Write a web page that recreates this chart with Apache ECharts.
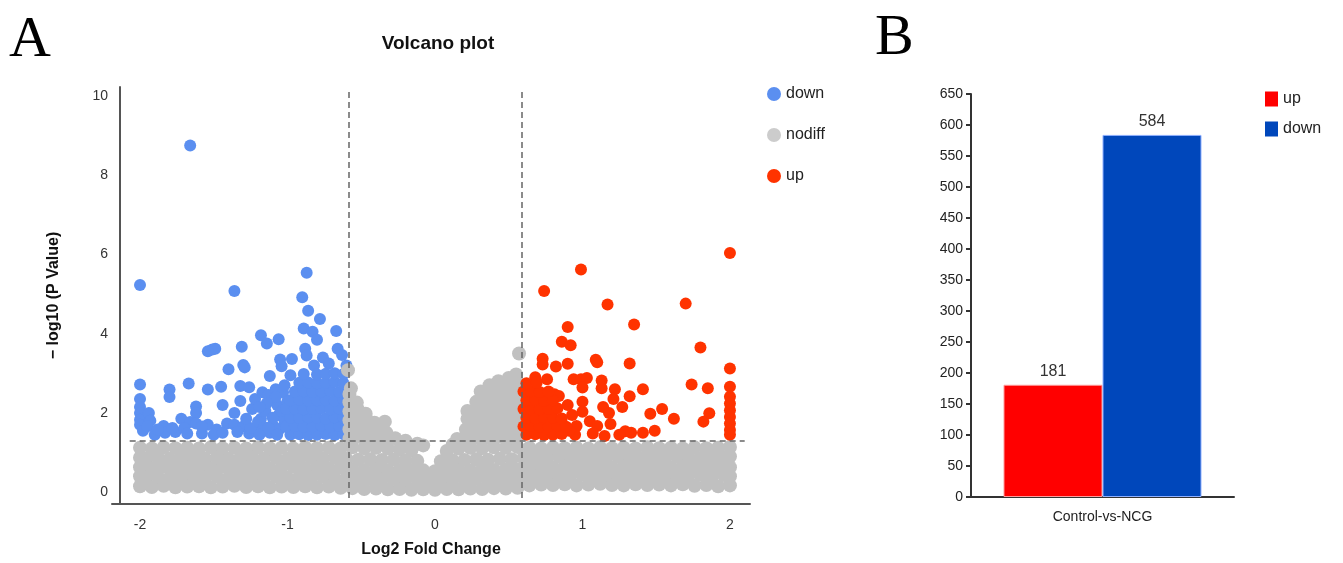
<!DOCTYPE html>
<html>
<head>
<meta charset="utf-8">
<script src="https://cdn.jsdelivr.net/npm/echarts@6/dist/echarts.min.js"></script>
<style>
  html, body { margin: 0; padding: 0; background: #fff; }
  #main { width: 1343px; height: 563px; }
</style>
</head>
<body>
<div id="main"></div>
<script>
// ---- volcano plot data (log2FC, -log10 p) ----
var downPts = [
  [-1.66,8.75],[-2.00,5.23],[-1.36,5.08],[-0.87,5.54],[-0.90,4.92],[-0.86,4.58],[-0.78,4.37],[-0.67,4.07],
  [-0.89,4.13],[-0.83,4.05],[-0.80,3.85],[-1.18,3.96],[-1.14,3.75],[-1.06,3.86],[-1.31,3.67],[-1.51,3.60],
  [-1.49,3.62],[-1.54,3.56],[-1.30,3.21],[-1.29,3.15],[-1.40,3.10],[-1.05,3.35],[-1.04,3.18],[-0.97,3.36],
  [-1.12,2.93],[-0.88,3.62],[-0.87,3.45],[-0.66,3.62],[-0.63,3.46],[-0.60,3.20],[-0.76,3.40],[-0.72,3.25],
  [-0.82,3.20],[-2.00,2.72],[-1.67,2.74],[-1.80,2.59],[-1.80,2.40],[-2.00,2.35],[-2.00,2.15],[-2.00,2.00],
  [-2.00,1.83],[-2.00,1.70],[-1.94,2.00],[-1.98,1.55],[-1.93,1.80],[-1.54,2.59],[-1.45,2.66],[-1.32,2.68],
  [-1.26,2.65],[-1.44,2.20],[-1.62,2.16],[-1.62,2.00],[-1.36,2.00],[-1.72,1.85],[-1.66,1.77],[-1.62,1.73],
  [-1.84,1.67],[-1.83,1.50],[-1.54,1.70],[-1.48,1.58],[-1.41,1.73],[-1.36,1.70],[-1.30,1.66],[-1.21,1.58],
  [-1.18,1.85],[-1.24,2.10],[-1.22,2.35],[-1.17,2.52],[-1.13,2.45],[-1.08,2.60],[-1.03,2.52],[-1.90,1.45],
  [-1.76,1.52],[-1.70,1.62],[-1.58,1.48],[-1.50,1.45],[-1.44,1.50],[-1.26,1.48],[-1.12,1.50],[-1.10,1.70],
  [-1.15,2.05],[-1.06,1.95],[-1.07,2.20],[-1.00,2.30],
  [-1.25,1.62],[-1.20,1.78],[-1.16,1.64],[-1.10,1.88],[-1.05,1.60],[-1.02,1.80],[-1.08,2.40],[-1.04,2.05],
  [-1.14,2.25],[-1.19,2.15],[-1.28,1.85],[-1.32,2.30],[-1.34,1.52],[-1.58,1.66],[-1.68,1.48],[-1.78,1.62],
  [-1.95,1.66],[-1.88,1.58],[-1.19,1.45],[-1.13,1.62],[-1.07,1.45],[-1.02,2.70],[-0.98,2.95],
  [-0.98,1.45],[-0.92,1.46],[-0.86,1.44],[-0.80,1.45],[-0.74,1.47],[-0.68,1.44],[-0.62,1.46],
  [-1.01,1.66],[-0.95,1.67],[-0.89,1.65],[-0.83,1.66],[-0.77,1.68],[-0.71,1.65],[-0.65,1.67],[-0.60,1.66],
  [-0.98,1.88],[-0.92,1.87],[-0.86,1.89],[-0.80,1.88],[-0.74,1.86],[-0.68,1.89],[-0.62,1.88],
  [-1.01,2.10],[-0.95,2.11],[-0.89,2.09],[-0.83,2.10],[-0.77,2.12],[-0.71,2.09],[-0.65,2.11],[-0.60,2.10],
  [-0.98,2.32],[-0.92,2.33],[-0.86,2.31],[-0.80,2.32],[-0.74,2.34],[-0.68,2.31],[-0.62,2.33],
  [-0.95,2.54],[-0.89,2.55],[-0.83,2.53],[-0.77,2.54],[-0.71,2.56],[-0.65,2.53],[-0.60,2.55],
  [-0.92,2.76],[-0.86,2.77],[-0.80,2.75],[-0.74,2.76],[-0.68,2.78],[-0.62,2.75],
  [-0.89,2.98],[-0.80,2.97],[-0.74,2.99],[-0.68,3.00],[-0.62,2.98]
];

var nodiffPts = [
  // lower row
  [-2.00,0.15],[-1.92,0.13],[-1.84,0.16],[-1.76,0.12],[-1.68,0.14],[-1.60,0.15],[-1.52,0.12],[-1.44,0.14],
  [-1.36,0.16],[-1.28,0.13],[-1.20,0.15],[-1.12,0.12],[-1.04,0.14],[-0.96,0.13],[-0.88,0.15],[-0.80,0.12],
  [-0.72,0.14],[-0.64,0.11],[-0.56,0.10],[-0.48,0.08],[-0.40,0.09],[-0.32,0.07],[-0.24,0.08],[-0.16,0.06],
  [-0.08,0.07],[0.00,0.06],[0.08,0.08],[0.16,0.07],[0.24,0.09],[0.32,0.08],[0.40,0.10],[0.48,0.09],
  [0.56,0.11],[0.64,0.17],[0.72,0.19],[0.80,0.18],[0.88,0.20],[0.96,0.17],[1.04,0.19],[1.12,0.21],
  [1.20,0.18],[1.28,0.17],[1.36,0.20],[1.44,0.18],[1.52,0.19],[1.60,0.17],[1.68,0.20],[1.76,0.16],
  [1.84,0.18],[1.92,0.15],[2.00,0.17],
  [-2.00,0.40],[-1.96,0.37],[-1.88,0.39],[-1.80,0.36],[-1.72,0.38],[-1.64,0.40],[-1.56,0.37],[-1.48,0.39],
  [-1.40,0.36],[-1.32,0.38],[-1.24,0.40],[-1.16,0.37],[-1.08,0.39],[-1.00,0.36],[-0.92,0.38],[-0.84,0.37],
  [-0.76,0.39],[-0.68,0.36],[-0.60,0.35],[-0.52,0.33],[-0.44,0.34],[-0.36,0.32],[-0.28,0.33],[-0.20,0.31],
  [-0.12,0.32],[-0.04,0.30],[0.04,0.31],[0.12,0.33],[0.20,0.32],[0.28,0.34],[0.36,0.33],[0.44,0.35],
  [0.52,0.34],[0.60,0.38],[0.68,0.41],[0.76,0.43],[0.84,0.40],[0.92,0.42],[1.00,0.44],[1.08,0.41],
  [1.16,0.43],[1.24,0.40],[1.32,0.42],[1.40,0.44],[1.48,0.41],[1.56,0.43],[1.64,0.40],[1.72,0.42],
  [1.80,0.44],[1.88,0.41],[1.96,0.43],[2.00,0.40],
  [-2.00,0.63],[-1.92,0.61],[-1.84,0.64],[-1.76,0.60],[-1.68,0.62],[-1.60,0.63],[-1.52,0.61],[-1.44,0.64],
  [-1.36,0.60],[-1.28,0.62],[-1.20,0.63],[-1.12,0.60],[-1.04,0.62],[-0.96,0.64],[-0.88,0.61],[-0.80,0.63],
  [-0.72,0.60],[-0.64,0.62],[-0.56,0.58],[-0.48,0.56],[-0.40,0.57],[-0.32,0.55],[-0.24,0.56],[-0.16,0.54],
  [-0.08,0.55],[0.00,0.53],[0.08,0.55],[0.16,0.56],[0.24,0.55],[0.32,0.57],[0.40,0.56],[0.48,0.58],
  [0.56,0.57],[0.64,0.64],[0.72,0.66],[0.80,0.63],[0.88,0.65],[0.96,0.67],[1.04,0.64],[1.12,0.66],
  [1.20,0.63],[1.28,0.65],[1.36,0.67],[1.44,0.64],[1.52,0.66],[1.60,0.63],[1.68,0.65],[1.76,0.67],
  [1.84,0.64],[1.92,0.66],[2.00,0.63],
  [-2.00,0.87],[-1.96,0.85],[-1.88,0.88],[-1.80,0.84],[-1.72,0.86],[-1.64,0.88],[-1.56,0.85],[-1.48,0.87],
  [-1.40,0.84],[-1.32,0.86],[-1.24,0.88],[-1.16,0.85],[-1.08,0.87],[-1.00,0.84],[-0.92,0.86],[-0.84,0.88],
  [-0.76,0.85],[-0.68,0.87],[-0.60,0.84],[-0.52,0.82],[-0.44,0.83],[-0.36,0.81],[-0.28,0.82],[-0.20,0.80],
  [-0.12,0.79],[0.04,0.78],[0.12,0.80],[0.20,0.81],[0.28,0.83],[0.36,0.82],[0.44,0.84],[0.52,0.83],
  [0.60,0.86],[0.68,0.89],[0.76,0.87],[0.84,0.90],[0.92,0.88],[1.00,0.86],[1.08,0.89],[1.16,0.87],
  [1.24,0.90],[1.32,0.88],[1.40,0.86],[1.48,0.89],[1.56,0.87],[1.64,0.90],[1.72,0.88],[1.80,0.86],
  [1.88,0.89],[1.96,0.87],[2.00,0.90],
  // upper row, just under the p threshold
  [-2.00,1.12],[-1.92,1.10],[-1.84,1.13],[-1.76,1.11],[-1.68,1.12],[-1.60,1.10],[-1.52,1.13],[-1.44,1.11],
  [-1.36,1.12],[-1.28,1.10],[-1.20,1.13],[-1.12,1.11],[-1.04,1.12],[-0.96,1.10],[-0.88,1.13],[-0.80,1.11],
  [-0.72,1.12],[-0.64,1.10],[-0.56,1.13],[-0.48,1.11],[-0.40,1.12],[-0.32,1.10],[-0.24,1.08],[-0.16,1.06],
  [-0.08,1.18],[0.08,1.04],[0.16,1.10],[0.24,1.12],[0.32,1.11],[0.40,1.13],[0.48,1.12],[0.56,1.14],
  [0.64,1.12],[0.72,1.10],[0.80,1.13],[0.88,1.11],[0.96,1.12],[1.04,1.10],[1.12,1.13],[1.20,1.11],
  [1.28,1.12],[1.36,1.10],[1.44,1.13],[1.52,1.11],[1.60,1.12],[1.68,1.10],[1.76,1.13],[1.84,1.11],
  [1.92,1.12],[2.00,1.14],
  // left shoulder
  [-0.58,1.35],[-0.58,1.58],[-0.58,1.81],[-0.58,2.04],[-0.58,2.27],[-0.58,2.48],[-0.57,2.62],
  [-0.52,1.40],[-0.52,1.63],[-0.52,1.86],[-0.52,2.07],[-0.53,2.26],
  [-0.46,1.35],[-0.46,1.58],[-0.46,1.81],[-0.47,1.98],
  [-0.40,1.38],[-0.40,1.60],[-0.41,1.75],
  [-0.34,1.33],[-0.34,1.78],[-0.33,1.50],[-0.27,1.36],[-0.20,1.30],[-0.12,1.22],
  [-0.59,3.08],
  // right shoulder
  [0.12,1.20],[0.15,1.34],
  [0.20,1.35],[0.21,1.58],[0.22,1.85],[0.22,2.05],
  [0.26,1.35],[0.26,1.58],[0.27,1.81],[0.27,2.04],[0.28,2.28],
  [0.32,1.40],[0.32,1.63],[0.32,1.86],[0.32,2.09],[0.32,2.32],[0.31,2.54],
  [0.38,1.35],[0.38,1.58],[0.38,1.81],[0.38,2.04],[0.38,2.27],[0.38,2.50],[0.37,2.70],
  [0.44,1.40],[0.44,1.63],[0.44,1.86],[0.44,2.09],[0.44,2.32],[0.44,2.55],[0.43,2.80],
  [0.50,1.35],[0.50,1.58],[0.50,1.81],[0.50,2.04],[0.50,2.27],[0.50,2.50],[0.49,2.72],[0.50,2.88],
  [0.56,1.40],[0.56,1.63],[0.56,1.86],[0.56,2.09],[0.56,2.32],[0.56,2.55],[0.56,2.78],[0.55,2.97],
  [0.57,3.50]
];

var upPts = [
  [2.00,6.04],[0.99,5.62],[0.74,5.08],[1.17,4.74],[1.70,4.76],[1.35,4.23],[0.90,4.17],[0.86,3.80],
  [0.92,3.71],[1.80,3.65],[0.73,3.37],[0.73,3.22],[0.82,3.17],[0.90,3.24],[1.09,3.34],[1.10,3.28],
  [1.32,3.25],[2.00,3.12],[0.68,2.90],[0.76,2.85],[0.94,2.85],[0.99,2.85],[1.03,2.88],[1.13,2.82],
  [1.00,2.64],[1.13,2.62],[1.22,2.60],[1.41,2.60],[1.74,2.72],[1.85,2.62],[2.00,2.66],[2.00,2.41],
  [2.00,2.24],[2.00,2.07],[2.00,1.90],[2.00,1.73],[2.00,1.57],[2.00,1.45],[1.32,2.42],[0.81,2.47],
  [0.84,2.43],[1.21,2.35],[1.27,2.15],[1.00,2.28],[1.00,2.03],[1.14,2.15],[1.18,2.00],[1.46,1.98],
  [1.54,2.10],[1.62,1.85],[1.86,1.99],[1.82,1.78],[1.05,1.79],[1.10,1.67],[1.19,1.72],[0.96,1.67],
  [1.29,1.54],[1.33,1.50],[1.41,1.50],[1.49,1.55],[1.25,1.45],[1.07,1.48],[0.95,1.45],[1.15,1.42],
  [0.91,1.55],[0.93,1.95],[0.90,2.20],
  [0.62,1.45],[0.68,1.46],[0.74,1.44],[0.80,1.45],[0.86,1.47],
  [0.60,1.66],[0.65,1.67],[0.71,1.65],[0.77,1.66],[0.83,1.68],[0.89,1.65],
  [0.62,1.88],[0.68,1.87],[0.74,1.89],[0.80,1.88],[0.86,1.86],
  [0.60,2.10],[0.65,2.11],[0.71,2.09],[0.77,2.10],[0.83,2.12],
  [0.62,2.32],[0.68,2.33],[0.74,2.31],[0.80,2.32],
  [0.60,2.54],[0.65,2.55],[0.71,2.53],[0.77,2.54],
  [0.62,2.75],[0.69,2.77]
];

var fcCut = 0.585;     // log2(1.5)
var pCut = 1.301;      // -log10(0.05)
var volcanoXTicks = [-2, -1, 0, 1, 2];
var volcanoYTicks = [0, 2, 4, 6, 8, 10];

// ---- DEG count bar chart ----
var groups = ['Control-vs-NCG'];
var upCount = [181];
var downCount = [584];

var font = 'Liberation Sans, Arial, sans-serif';
var chart = echarts.init(document.getElementById('main'));

var option = {
  animation: false,
  title: [
    { text: 'A', left: 4, top: 7, textStyle: { fontFamily: 'Liberation Serif, Times New Roman, serif', fontSize: 58, fontWeight: 'normal', color: '#000' } },
    { text: 'Volcano plot', left: 433, textAlign: 'center', top: 29, textStyle: { fontFamily: font, fontSize: 19, fontWeight: 'bold', color: '#111' } },
    { text: 'B', left: 870, top: 5, textStyle: { fontFamily: 'Liberation Serif, Times New Roman, serif', fontSize: 58, fontWeight: 'normal', color: '#000' } }
  ],
  legend: [
    {
      orient: 'vertical', left: 762, top: 81, itemGap: 25,
      icon: 'circle', itemWidth: 14, itemHeight: 14,
      textStyle: { fontFamily: font, fontSize: 16, color: '#222' },
      data: [
        { name: 'down', itemStyle: { color: '#5b8ff0' } },
        { name: 'nodiff', itemStyle: { color: '#cccccc' } },
        { name: 'up', itemStyle: { color: '#ff3300' } }
      ]
    },
    {
      orient: 'vertical', left: 1260, top: 86, itemGap: 14,
      icon: 'rect', itemWidth: 13, itemHeight: 15,
      textStyle: { fontFamily: font, fontSize: 16, color: '#222' },
      data: [
        { name: 'up', itemStyle: { color: '#ff0000' } },
        { name: 'down', itemStyle: { color: '#0047bb' } }
      ]
    }
  ],
  grid: [
    { left: 112, right: 593, top: 87, bottom: 59 },
    { left: 971, right: 109, top: 94, bottom: 66 }
  ],
  xAxis: [
    {
      gridIndex: 0, type: 'value', min: -2.19, max: 2.136,
      name: 'Log2 Fold Change', nameLocation: 'middle', nameGap: 38,
      nameTextStyle: { fontFamily: font, fontSize: 16, fontWeight: 'bold', color: '#111' },
      axisLine: { onZero: false, lineStyle: { color: '#555', width: 2 } },
      axisTick: { show: false, customValues: volcanoXTicks },
      axisLabel: { customValues: volcanoXTicks, margin: 14, fontFamily: font, fontSize: 14, color: '#333' },
      splitLine: { show: false }
    },
    {
      gridIndex: 1, type: 'category', data: groups,
      axisLine: { lineStyle: { color: '#333', width: 2 } },
      axisTick: { alignWithLabel: true, length: 8, lineStyle: { color: '#333', width: 2 } },
      axisLabel: { margin: 13, fontFamily: font, fontSize: 14, color: '#222' }
    }
  ],
  yAxis: [
    {
      gridIndex: 0, type: 'value', min: -0.3, max: 10.23, offset: -8,
      name: '\u2212 log10 (P Value)', nameLocation: 'middle', nameGap: 58, nameRotate: 90,
      nameTextStyle: { fontFamily: font, fontSize: 16, fontWeight: 'bold', color: '#111' },
      axisLine: { show: true, onZero: false, lineStyle: { color: '#555', width: 2 } },
      axisTick: { show: false, customValues: volcanoYTicks },
      axisLabel: { customValues: volcanoYTicks, margin: 12, fontFamily: font, fontSize: 14, color: '#333' },
      splitLine: { show: false }
    },
    {
      gridIndex: 1, type: 'value', min: 0, max: 650, interval: 50,
      axisLine: { show: true, lineStyle: { color: '#333', width: 2 } },
      axisTick: { show: true, length: 5, lineStyle: { color: '#333', width: 2 } },
      axisLabel: { margin: 8, fontFamily: font, fontSize: 14, color: '#222' },
      splitLine: { show: false }
    }
  ],
  series: [
    {
      name: 'down', type: 'scatter', xAxisIndex: 0, yAxisIndex: 0,
      symbolSize: 12, itemStyle: { color: '#5b8ff0', opacity: 1 }, data: downPts
    },
    {
      name: 'nodiff', type: 'scatter', xAxisIndex: 0, yAxisIndex: 0,
      symbolSize: 14, itemStyle: { color: '#c0c0c0', opacity: 1 }, data: nodiffPts
    },
    {
      name: 'up', type: 'scatter', xAxisIndex: 0, yAxisIndex: 0,
      symbolSize: 12, itemStyle: { color: '#ff3300', opacity: 1 }, data: upPts,
      markLine: {
        silent: true, symbol: 'none', label: { show: false },
        lineStyle: { type: [6, 4], color: '#666', width: 1.5 },
        data: [
          [{ coord: [-fcCut, -0.15] }, { coord: [-fcCut, 10.15] }],
          [{ coord: [fcCut, -0.15] }, { coord: [fcCut, 10.15] }],
          [{ coord: [-2.07, pCut] }, { coord: [2.10, pCut] }]
        ]
      }
    },
    {
      name: 'up', type: 'bar', xAxisIndex: 1, yAxisIndex: 1,
      barWidth: 99, barGap: '0%', data: upCount,
      itemStyle: { color: '#ff0000', borderColor: '#ff9a9a', borderWidth: 1 },
      label: { show: true, position: 'top', fontFamily: font, fontSize: 16, color: '#333' }
    },
    {
      name: 'down', type: 'bar', xAxisIndex: 1, yAxisIndex: 1,
      barWidth: 99, barGap: '0%', data: downCount,
      itemStyle: { color: '#0047bb', borderColor: '#8fb0ff', borderWidth: 1 },
      label: { show: true, position: 'top', fontFamily: font, fontSize: 16, color: '#333' }
    }
  ]
};

chart.setOption(option);
</script>
</body>
</html>
